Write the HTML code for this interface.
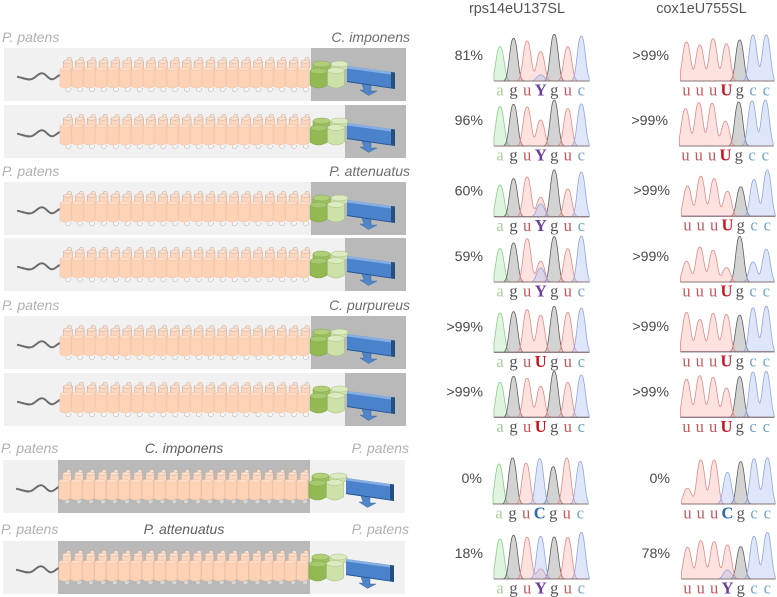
<!DOCTYPE html>
<html>
<head>
<meta charset="utf-8">
<style>
html,body{margin:0;padding:0;background:#fff;width:777px;height:597px;overflow:hidden}
svg{display:block}
text{font-family:"Liberation Sans",sans-serif}
.sp{font-size:14px;font-style:italic}
.pct{font-size:14.2px;fill:#4a4a4a;text-anchor:end}
.ttl{font-size:14.4px;fill:#555;text-anchor:middle}
</style>
</head>
<body>
<svg id="fig" xmlns="http://www.w3.org/2000/svg" width="777" height="597" viewBox="0 0 777 597">
  <defs>
    <g id="construct"></g>
  </defs>

  <text class="ttl" x="517" y="13">rps14eU137SL</text>
  <text class="ttl" x="701.5" y="13">cox1eU755SL</text>

  <g>
    <text class="sp" x="2" y="42" fill="#b0b0b0">P. patens</text>
    <text class="sp" x="410" y="42" fill="#6e6e6e" text-anchor="end">C. imponens</text>
    <text class="sp" x="2" y="176" fill="#b0b0b0">P. patens</text>
    <text class="sp" x="410" y="176" fill="#6e6e6e" text-anchor="end">P. attenuatus</text>
    <text class="sp" x="2" y="310" fill="#b0b0b0">P. patens</text>
    <text class="sp" x="410" y="310" fill="#6e6e6e" text-anchor="end">C. purpureus</text>
    <text class="sp" x="1" y="453" fill="#b0b0b0">P. patens</text>
    <text class="sp" x="184" y="453" fill="#5e5e5e" text-anchor="middle">C. imponens</text>
    <text class="sp" x="409" y="453" fill="#b0b0b0" text-anchor="end">P. patens</text>
    <text class="sp" x="1" y="534" fill="#b0b0b0">P. patens</text>
    <text class="sp" x="184" y="534" fill="#5e5e5e" text-anchor="middle">P. attenuatus</text>
    <text class="sp" x="409" y="534" fill="#b0b0b0" text-anchor="end">P. patens</text>
  </g>

  <g transform="translate(4,48)">
    <rect width="402" height="53" fill="#f1f1f1"/>
    <rect x="307" width="95" height="53" fill="#b9b9b9"/>
    <use href="#construct"/>
  </g>
  <g transform="translate(4,105)">
    <rect width="402" height="53" fill="#f1f1f1"/>
    <rect x="341" width="61" height="53" fill="#b9b9b9"/>
    <use href="#construct"/>
  </g>
  <g transform="translate(4,182)">
    <rect width="402" height="53" fill="#f1f1f1"/>
    <rect x="307" width="95" height="53" fill="#b9b9b9"/>
    <use href="#construct"/>
  </g>
  <g transform="translate(4,238)">
    <rect width="402" height="53" fill="#f1f1f1"/>
    <rect x="341" width="61" height="53" fill="#b9b9b9"/>
    <use href="#construct"/>
  </g>
  <g transform="translate(4,316)">
    <rect width="402" height="53" fill="#f1f1f1"/>
    <rect x="307" width="95" height="53" fill="#b9b9b9"/>
    <use href="#construct"/>
  </g>
  <g transform="translate(4,373)">
    <rect width="402" height="53" fill="#f1f1f1"/>
    <rect x="341" width="61" height="53" fill="#b9b9b9"/>
    <use href="#construct"/>
  </g>
  <g transform="translate(3,460)">
    <rect width="402" height="53" fill="#f1f1f1"/>
    <rect x="55" width="252" height="53" fill="#b9b9b9"/>
    <use href="#construct"/>
  </g>
  <g transform="translate(3,541)">
    <rect width="402" height="53" fill="#f1f1f1"/>
    <rect x="55" width="252" height="53" fill="#b9b9b9"/>
    <use href="#construct"/>
  </g>

  <!-- trace panels: transform holds the panel baseline origin -->
  <g class="panel" data-col="rps" data-row="0" transform="translate(0,81)"></g>
  <g class="panel" data-col="rps" data-row="1" transform="translate(0,146)"></g>
  <g class="panel" data-col="rps" data-row="2" transform="translate(0,216.7)"></g>
  <g class="panel" data-col="rps" data-row="3" transform="translate(0,282)"></g>
  <g class="panel" data-col="rps" data-row="4" transform="translate(0,352.3)"></g>
  <g class="panel" data-col="rps" data-row="5" transform="translate(0,417.3)"></g>
  <g class="panel" data-col="rps" data-row="6" transform="translate(-1,504)"></g>
  <g class="panel" data-col="rps" data-row="7" transform="translate(0,579)"></g>
  <g class="panel" data-col="cox" data-row="0" transform="translate(0,81)"></g>
  <g class="panel" data-col="cox" data-row="1" transform="translate(-1,146)"></g>
  <g class="panel" data-col="cox" data-row="2" transform="translate(1,216.2)"></g>
  <g class="panel" data-col="cox" data-row="3" transform="translate(0,282)"></g>
  <g class="panel" data-col="cox" data-row="4" transform="translate(0,351.8)"></g>
  <g class="panel" data-col="cox" data-row="5" transform="translate(0,417.3)"></g>
  <g class="panel" data-col="cox" data-row="6" transform="translate(1,504)"></g>
  <g class="panel" data-col="cox" data-row="7" transform="translate(1,579)"></g>
</svg>

<script>
// ---- chart data (peak signal values) ----
const rpsCalls = ['aguYguc','aguYguc','aguYguc','aguYguc','aguUguc','aguUguc','aguCguc','aguYguc'];
const coxCalls = ['uuuUgcc','uuuUgcc','uuuUgcc','uuuUgcc','uuuUgcc','uuuUgcc','uuuCgcc','uuuYgcc'];
const rpsPercent = ['81%','96%','60%','59%','>99%','>99%','0%','18%'];
const coxPercent = ['>99%','>99%','>99%','>99%','>99%','>99%','0%','78%'];
const rpsPeaks = [
  [103,128,120,88,140,103,135],
  [118,125,117,78,138,112,126],
  [95,114,119,58,140,83,134],
  [100,117,130,62,136,100,138],
  [118,122,128,111,138,120,133],
  [105,123,117,93,138,105,127],
  [120,138,123,136,112,138,128],
  [120,131,125,128,126,125,140]
];
const coxPeaks = [
  [117,108,127,112,123,138,138],
  [112,130,128,74,132,135,138],
  [90,120,113,75,88,110,138],
  [62,105,95,43,137,60,98],
  [118,97,115,112,110,132,137],
  [114,125,120,88,122,136,138],
  [47,132,132,95,127,136,138],
  [95,115,112,102,97,128,140]
];
// secondary peak under the ambiguous "Y" call; 0 where there is none
const rpsMinor = [18,0,38,42,0,0,0,30];
const coxMinor = [0,0,0,0,0,0,0,27];
// channel of the main peak at the ambiguous Y call
const rpsYMain = ['T','T','T','T','T','T','T','C'];
const coxYMain = ['T','T','T','T','T','T','T','T'];

// ---- axis functions ----
const SVGNS = 'http://www.w3.org/2000/svg';
const yScale = v => -v / 3;
const rpsX = i => 500 + i * 13.55;
const coxX = i => 686.5 + i * 13.3;
const channelStyle = {
  A: {stroke:'#86cf86', fill:'rgba(170,230,170,.38)'},
  G: {stroke:'#5e5e5e', fill:'rgba(150,150,150,.42)'},
  T: {stroke:'#e08a88', fill:'rgba(250,170,160,.34)'},
  C: {stroke:'#8ea6e2', fill:'rgba(165,185,240,.36)'}
};
const letterStyle = {
  a:{c:'#a9cf9a',w:'normal',ch:'A'}, g:{c:'#555555',w:'normal',ch:'G'},
  u:{c:'#c4585c',w:'normal',ch:'T'}, c:{c:'#6da3cb',w:'normal',ch:'C'},
  Y:{c:'#6a3d9e',w:'bold',ch:'T'},  U:{c:'#cc1420',w:'bold',ch:'T'},
  C:{c:'#2c6ba8',w:'bold',ch:'C'}
};
const PEAK_WIDTH = 5.2;
const PEAK_POWER = 2.5;

function tracePath(peaks, xFn, x0, x1){
  let d = 'M' + x0 + ' 0';
  for (let x = x0; x <= x1; x += 0.5){
    let s = 0;
    peaks.forEach(p => { const u = Math.abs(x - xFn(p.i)) / PEAK_WIDTH; s += p.v * Math.exp(-Math.pow(u, PEAK_POWER)); });
    d += 'L' + x.toFixed(1) + ' ' + yScale(s).toFixed(2);
  }
  return d + 'L' + x1 + ' 0Z';
}

function drawPanel(g){
  const isRps = g.getAttribute('data-col') === 'rps';
  const row = +g.getAttribute('data-row');
  const calls = isRps ? rpsCalls[row] : coxCalls[row];
  const vals = isRps ? rpsPeaks[row] : coxPeaks[row];
  const minor = isRps ? rpsMinor[row] : coxMinor[row];
  const yMain = isRps ? rpsYMain[row] : coxYMain[row];
  const xFn = isRps ? rpsX : coxX;
  const x0 = xFn(0) - 6;
  const x1 = xFn(6) + 8;
  const chans = {A:[],G:[],T:[],C:[]};
  calls.split('').forEach((ch, i) => {
    const st = letterStyle[ch];
    if (ch === 'Y'){
      chans[yMain].push({i:i, v:vals[i]});
      chans[yMain === 'T' ? 'C' : 'T'].push({i:i, v:minor});
    } else {
      chans[st.ch].push({i:i, v:vals[i]});
    }
  });
  ['A','G','T','C'].forEach(k => {
    if (!chans[k].length) return;
    const p = document.createElementNS(SVGNS, 'path');
    p.setAttribute('d', tracePath(chans[k], xFn, x0, x1));
    p.setAttribute('fill', channelStyle[k].fill);
    p.setAttribute('stroke', channelStyle[k].stroke);
    p.setAttribute('stroke-width', '0.8');
    
    
    g.appendChild(p);
  });
  const base = document.createElementNS(SVGNS, 'line');
  base.setAttribute('x1', x0);
  base.setAttribute('x2', x1);
  base.setAttribute('y1', 0);
  base.setAttribute('y2', 0);
  base.setAttribute('stroke', '#8a7272');
  base.setAttribute('stroke-width', '1');
  
  
  g.appendChild(base);
  calls.split('').forEach((ch, i) => {
    const st = letterStyle[ch];
    const t = document.createElementNS(SVGNS, 'text');
    t.textContent = ch;
    t.setAttribute('x', xFn(i));
    t.setAttribute('y', 14.5);
    t.setAttribute('text-anchor', 'middle');
    t.setAttribute('font-size', '16.5');
    t.setAttribute('font-weight', st.w);
    t.setAttribute('fill', st.c);
    t.setAttribute('style', 'font-family:"Liberation Serif",serif');
    
    
    g.appendChild(t);
  });
  const lab = document.createElementNS(SVGNS, 'text');
  lab.textContent = isRps ? rpsPercent[row] : coxPercent[row];
  lab.setAttribute('class', 'pct');
  lab.setAttribute('x', isRps ? 483 : 669);
  lab.setAttribute('y', -21);
  
  
  g.appendChild(lab);
}
document.querySelectorAll('.panel').forEach(drawPanel);

// ---- construct schematic (shared by all rows) ----
const construct = document.getElementById('construct');
function shape(tag, attrs, name){
  const e = document.createElementNS(SVGNS, tag);
  Object.keys(attrs).forEach(k => e.setAttribute(k, attrs[k]));
  
  
  construct.appendChild(e);
  return e;
}
function cyl(x, y, w, h, fill, stroke, top, name, r){
  shape('path', {d:`M${x} ${y+r}V${y+h-r}Q${x+w/2} ${y+h+r} ${x+w} ${y+h-r}V${y+r}Z`, fill:fill, stroke:stroke, 'stroke-width':.6}, name);
  shape('ellipse', {cx:x+w/2, cy:y+r, rx:w/2, ry:r, fill:top, stroke:stroke, 'stroke-width':.5}, name + '-cap');
}
shape('path', {d:'M13 28.7C20 30 24 32.5 28 31C32 29.5 34 25.3 38 25.3C42 25.3 44 31.3 48 31.3C51 31.3 53 28 56 27', fill:'none', stroke:'#6c6c6c', 'stroke-width':2}, 'n-terminal-tail');
for (let i = 0; i < 21; i++){
  const x = 56 + i * 11.88;
  shape('path', {d:`M${x+6} 40.5C${x+5} 45 ${x+11} 45 ${x+11} 40`, fill:'rgba(255,255,255,.45)', stroke:'#a9a9a9', 'stroke-width':.5}, 'lumen-loop');
  shape('path', {d:`M${x+7} 12.5L${x+8} 9.6L${x+11} 9.6L${x+12} 12.5`, fill:'#fce4d4', stroke:'#c8a692', 'stroke-width':.5}, 'stroma-loop');
  cyl(x + 3.5, 12, 8.8, 10, '#fcd7c0', '#cdaa94', '#fde3d3', 'back-helix', 1.6);
  cyl(x, 19.5, 11.2, 20.5, '#fdd2b5', '#f3c5a6', '#fedcc6', 'front-helix', 1.6);
}
cyl(309, 13, 17, 10, '#9cc05e', '#86a94f', '#b0cf78', 'dark-green-back', 3);
cyl(306, 20, 17.2, 20, '#93b954', '#7fa545', '#a7c96d', 'dark-green-front', 3);
cyl(327, 13, 17, 10, '#cfe3ab', '#a5bf7f', '#dcebc1', 'light-green-back', 3);
cyl(323.5, 19.5, 17, 20.5, '#cde2a8', '#a7c180', '#dbeabf', 'light-green-front', 3);
shape('polygon', {points:'358,36 367,37 367,43 373,43 364.5,47.5 356,42 360,42', fill:'#5085c8', stroke:'#2e5a94', 'stroke-width':.4}, 'anchor-arrow');
shape('polygon', {points:'343,18 391,24.5 391,41 343,34', fill:'#4a82cc'}, 'helix-face');
shape('polygon', {points:'343,18 391,24.5 391,27 343,20.5', fill:'#86aee2'}, 'helix-top');
shape('polygon', {points:'387,24 391,24.5 391,41 387,40.4', fill:'#24507f'}, 'helix-end');
shape('polygon', {points:'343,33 387,39.6 387,40.4 343,34', fill:'#2a5590'}, 'helix-bottom-edge');
</script>
</body>
</html>
